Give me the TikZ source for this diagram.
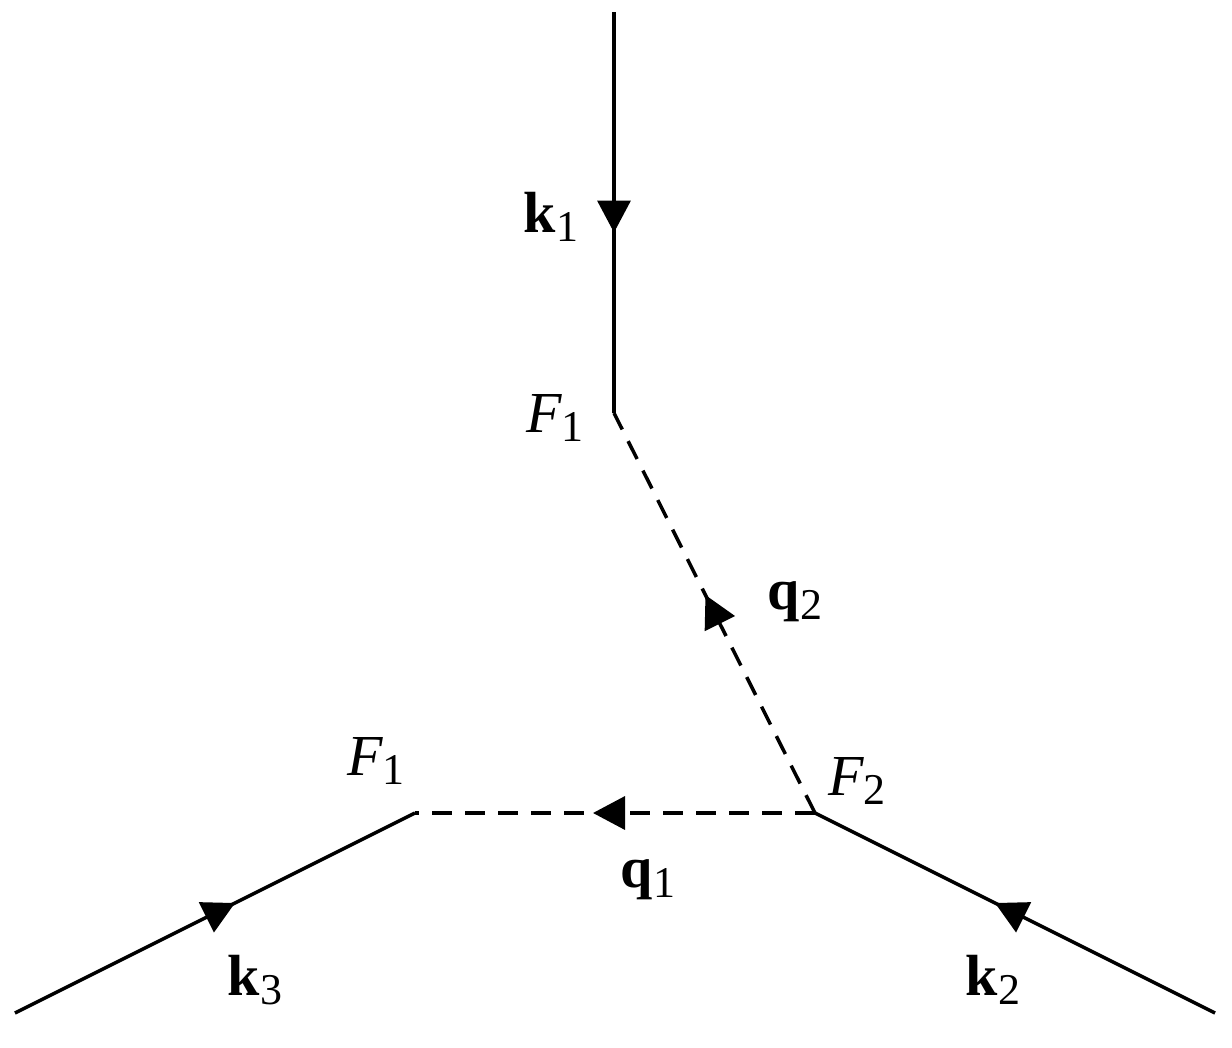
\documentclass[tikz,border=0pt]{standalone}
\usepackage{fontspec}
\setmainfont{Liberation Serif}
\usetikzlibrary{arrows.meta,decorations.markings}

\newcommand{\lsub}[1]{\raisebox{-0.35ex}{\fontsize{12.5}{14}\selectfont #1}}
\newcommand{\vk}[1]{\textbf{k}\lsub{#1}}
\newcommand{\vq}[1]{\textbf{q}\lsub{#1}}
\newcommand{\fF}[1]{\textit{F}\kern-0.02em\lsub{#1}}

\begin{document}
\begin{tikzpicture}[x=0.01cm, y=-0.01cm, line width=1pt,
    midarrow/.style = {postaction={decorate}, decoration={markings,
        mark=at position #1 with {\arrow{Triangle[length=0.32cm,width=0.33cm]}}}},
    prop/.style = {dash pattern=on 0.2cm off 0.13cm},
    lbl/.style = {font=\fontsize{16.5}{19}\selectfont, inner sep=0pt}]
    \useasboundingbox (0,0) rectangle (1232,1048);

    \coordinate (top) at (614,12);
    \coordinate (v1) at (614,413);
    \coordinate (v2) at (815,813);
    \coordinate (v3) at (415,813);
    \coordinate (left) at (15,1013);
    \coordinate (right) at (1215,1013);

    \draw[midarrow=0.55] (top) -- (v1);
    \draw[prop, midarrow=0.545] (v2) -- (v1);
    \draw[prop, midarrow=0.555] (v2) -- (v3);
    \draw[midarrow=0.55] (left) -- (v3);
    \draw[midarrow=0.55] (right) -- (v2);

    \node[lbl] (k1) at (551,217) {\vk{1}};
    \node[lbl] (f1a) at (555,418) {\fF{1}};
    \node[lbl] (q2) at (795,602) {\vq{2}};
    \node[lbl] (f2) at (857,781) {\fF{2}};
    \node[lbl] (f1b) at (376,761) {\fF{1}};
    \node[lbl] (q1) at (648,880) {\vq{1}};
    \node[lbl] (k3) at (255,980) {\vk{3}};
    \node[lbl] (k2) at (993,980) {\vk{2}};
\end{tikzpicture}
\end{document}
